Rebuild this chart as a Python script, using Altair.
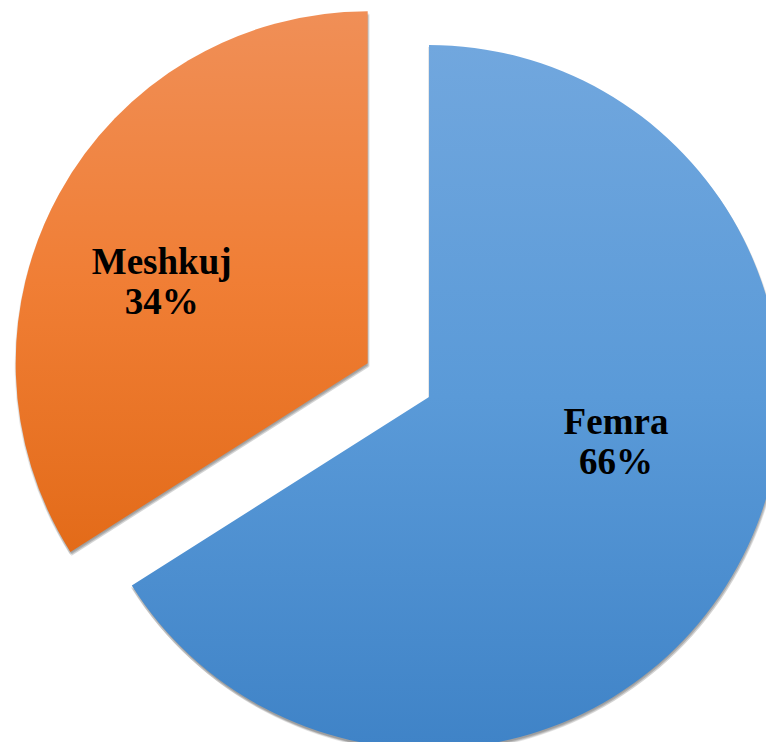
import math
import altair as alt
import pandas as pd

# ---- data ----
categories = ["Femra", "Meshkuj"]
values = [66, 34]
pct_labels = ["66%", "34%"]

# ---- layout / style ----
W, H = 758, 734
CX, CY = 421, 389          # pie centre (chart pixels)
R = 352                    # pie radius
EXPLODE = {"Femra": 0, "Meshkuj": 70}
LABEL_OFFSET = {"Femra": (187, 26), "Meshkuj": (-206, -100)}
GRADIENTS = {
    "Femra": ["#71A7DE", "#5A9AD8", "#3F83C7"],
    "Meshkuj": ["#F08F57", "#F07E35", "#E36B19"],
}
SHADOW_OFFSETS = [(-1, 2), (1, 2), (2, 3), (0, 3), (1, 4)]

total = sum(values)
rows = []
start = 0.0
for c, v, l in zip(categories, values, pct_labels):
    end = start + v
    mid = (start + end) / 2 / total * 2 * math.pi
    e = EXPLODE[c]
    px = CX + e * math.sin(mid)
    py = CY - e * math.cos(mid)
    ox, oy = LABEL_OFFSET[c]
    rows.append(dict(cat=c, value=v, start=start / total * 100, end=end / total * 100,
                     px=px, py=py, lx=px + ox, ly=py + oy, label=f"{c}\n{l}"))
    start = end
df = pd.DataFrame(rows)

shadow_rows = []
for i, (dx, dy) in enumerate(SHADOW_OFFSETS):
    for r in rows:
        s = dict(r)
        s["px"] = r["px"] + dx
        s["py"] = r["py"] + dy
        shadow_rows.append(s)
sdf = pd.DataFrame(shadow_rows)

theta_scale = alt.Scale(domain=[0, 100], range=[0, 2 * math.pi])

def arc_enc():
    return dict(
        theta=alt.Theta("start:Q", scale=theta_scale, stack=None),
        theta2=alt.Theta2("end:Q"),
        x=alt.X("px:Q", scale=None, axis=None),
        y=alt.Y("py:Q", scale=None, axis=None),
    )

shadow = alt.Chart(sdf).mark_arc(radius=R, color="#000000", opacity=0.09).encode(**arc_enc())

layers = [shadow]
for c in categories:
    cols = GRADIENTS[c]
    grad = alt.LinearGradient(
        gradient="linear", x1=0, y1=0, x2=0, y2=1,
        stops=[alt.GradientStop(color=cols[0], offset=0),
               alt.GradientStop(color=cols[1], offset=0.5),
               alt.GradientStop(color=cols[2], offset=1)],
    )
    layers.append(
        alt.Chart(df).transform_filter(alt.datum.cat == c)
        .mark_arc(radius=R, color=grad, strokeWidth=0)
        .encode(**arc_enc())
    )

text = alt.Chart(df).mark_text(
    font="Liberation Serif", fontWeight="bold", fontSize=37, lineHeight=40,
    lineBreak="\n", color="#000000", align="center", baseline="middle",
).encode(
    x=alt.X("lx:Q", scale=None, axis=None),
    y=alt.Y("ly:Q", scale=None, axis=None),
    text="label:N",
)
layers.append(text)

chart = alt.layer(*layers).properties(
    width=W, height=H, padding=0,
    autosize=alt.AutoSizeParams(type="none"),
).configure_view(stroke=None)

chart.save("out.html", embed_options={"renderer": "svg", "actions": False})
